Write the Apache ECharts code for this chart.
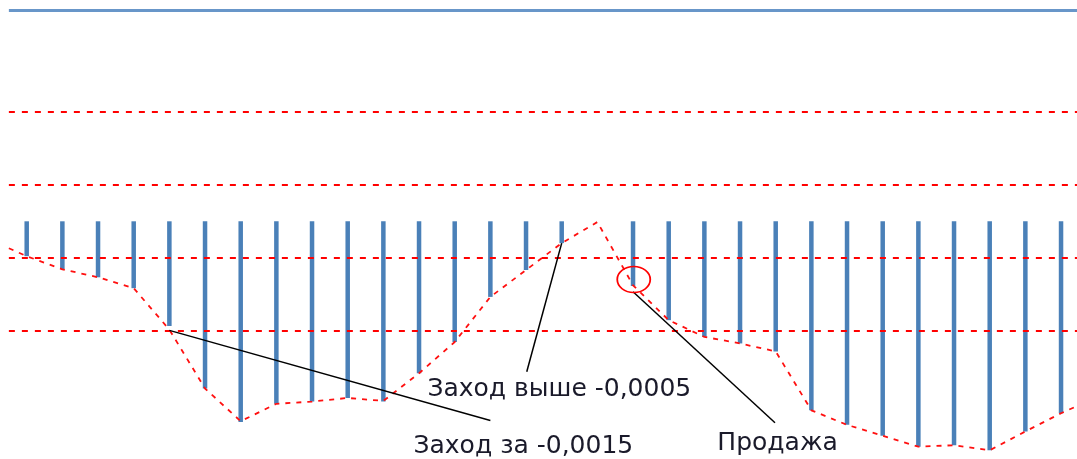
<!DOCTYPE html>
<html><head><meta charset="utf-8">
<script src="https://cdn.jsdelivr.net/npm/echarts@6/dist/echarts.min.js"></script>
<style>html,body{margin:0;padding:0;background:#fff;overflow:hidden}#c{width:1077px;height:459px}</style>
</head><body><div id="c"></div>
<script>
// bar bottoms (bars hang from 0); index 16 has no bar
const barValues = [-0.00048, -0.00066, -0.00077, -0.00092, -0.00144, -0.0023, -0.00276, -0.00251, -0.00248, -0.00243,
  -0.00248, -0.00209, -0.00166, -0.00104, -0.00067, -0.0003, null, -0.00089, -0.00136, -0.00159,
  -0.00168, -0.00179, -0.0026, -0.0028, -0.00295, -0.0031, -0.00308, -0.00315, -0.00289, -0.00264];
// red dashed line values at each position
const lineValues = [-0.00048, -0.00066, -0.00077, -0.00092, -0.00149, -0.0023, -0.00275, -0.00251, -0.00248, -0.00243,
  -0.00247, -0.00209, -0.00166, -0.00104, -0.00067, -0.0003, -0.00001, -0.00088, -0.00136, -0.00159,
  -0.00168, -0.00179, -0.0026, -0.0028, -0.00295, -0.0031, -0.00308, -0.00315, -0.00289, -0.00264];
const lineStart = -0.00037;
const lineEnd = -0.00253;
const upperLevel = 0.0029;
const levels = [0.0015, 0.0005, -0.0005, -0.0015];
const annotationTexts = ['Заход за -0,0015', 'Заход выше -0,0005', 'Продажа'];
const leaderFrom = [[4.0, -0.0015], [15.0, -0.0003], [17.0, -0.00097]];
const leaderTo = [[13.0, -0.00274], [14.02, -0.00207], [20.98, -0.00277]];
const labelAt = [[10.83, -0.0031], [11.22, -0.00231], [19.35, -0.00305]];
const sellMark = [17.02, -0.0008];

const chart = echarts.init(document.getElementById('c'), null, {renderer: 'canvas'});
const textStyleBase = {color: '#1a1a2a', fontFamily: 'DejaVu Sans', fontSize: 25};

const option = {
  animation: false,
  backgroundColor: '#ffffff',
  grid: {left: 8.87, top: 3.2, width: 1070, height: 472.55, containLabel: false, outerBoundsMode: 'none'},
  xAxis: {type: 'value', min: -0.5, max: 29.5, show: false, splitLine: {show: false}},
  yAxis: {type: 'value', min: -0.0035, max: 0.003, show: false, splitLine: {show: false}},
  series: [
    {
      type: 'bar',
      barWidth: 4.5,
      itemStyle: {color: '#4a80b8'},
      data: barValues.map((v, i) => [i, v]).filter(d => d[1] !== null),
      markLine: {
        silent: true, precision: 8, symbol: ['none', 'none'], label: {show: false},
        data: [
          {yAxis: upperLevel, lineStyle: {color: '#6896c9', width: 3, type: 'solid'}},
          ...levels.map(v => ({yAxis: v, lineStyle: {color: '#ff0000', width: 2, type: [6, 7]}}))
        ]
      }
    },
    {
      type: 'line',
      showSymbol: false,
      symbol: 'none',
      lineStyle: {color: '#ff1010', width: 1.8, type: [5, 6]},
      data: [[-0.5, lineStart], ...lineValues.map((v, i) => [i, v]), [29.5, lineEnd]],
      markLine: {
        silent: true, precision: 8, symbol: ['none', 'none'], label: {show: false},
        lineStyle: {color: '#000', width: 1.5, type: 'solid'},
        data: leaderFrom.map((f, k) => [{coord: f}, {coord: leaderTo[k]}])
      },
      markPoint: {
        silent: true,
        data: [
          {coord: sellMark, symbol: 'circle', symbolSize: [33, 26],
            itemStyle: {color: 'rgba(0,0,0,0)', borderColor: '#ff0000', borderWidth: 1.6},
            label: {show: false}},
          ...annotationTexts.map((t, k) => ({
            coord: labelAt[k], symbol: 'circle', symbolSize: 1,
            itemStyle: {color: 'rgba(0,0,0,0)'},
            label: Object.assign({show: true, position: 'right', distance: 0, formatter: t}, textStyleBase)
          }))
        ]
      }
    }
  ]
};
chart.setOption(option);
</script>
</body></html>
